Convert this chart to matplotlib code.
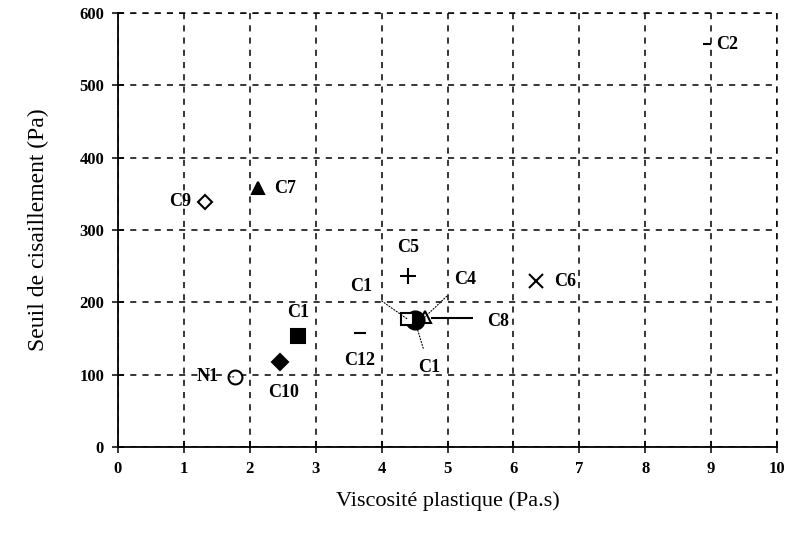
import numpy as np
import pandas as pd
from matplotlib import pyplot as plt

# data (Pa.s, Pa)
names = ["C2", "C9", "C7", "C5", "C6", "C4", "C8", "C3", "C13", "C11", "C10", "N1", "C12"]
visc = [8.94, 1.32, 2.12, 4.40, 6.34, 4.66, 5.07, 4.50, 4.39, 2.73, 2.46, 1.78, 3.67]
seuil = [557, 339, 358, 236, 229, 180, 178, 176, 177, 153, 118, 97, 158]
markers = ["_", "D", "^", "+", "x", "^", "_", "o", "s", "s", "D", "o", "_"]
filled = [True, False, True, True, True, False, True, True, False, True, True, False, True]
sizes = [6, 7, 9, 11, 10, 9, 30, 13, 8, 10, 8, 10, 9]
shown = ["C2", "C9", "C7", "C5", "C6", "C4", "C8", "C1", "C1", "C1", "C10", "N1", "C12"]
# label offset (data units) and whether a leader line is drawn
lab_dx = [0.3, -0.38, 0.42, 0.0, 0.45, 0.6, 0.7, 0.22, -0.7, 0.0, 0.05, -0.42, 0.0]
lab_dy = [0, 0, 0, 40, 0, 52, -4, -66, 45, 33, -42, 0, -38]
leader = [False, False, False, False, False, True, False, True, True, False, False, True, False]

plt.rcParams['font.family'] = ['Liberation Serif', 'DejaVu Serif']
fig = plt.figure(figsize=(7.95, 5.45), dpi=100)
ax = fig.add_axes([0.1484, 0.1798, 0.829, 0.796])

for i in range(len(names)):
    fc = 'black' if filled[i] else 'white'
    ax.plot(visc[i], seuil[i], marker=markers[i], ms=sizes[i], mfc=fc, mec='black',
            mew=1.5, ls='none', zorder=5)
    tx = visc[i] + lab_dx[i]
    ty = seuil[i] + lab_dy[i]
    if leader[i]:
        ax.annotate(shown[i], xy=(visc[i], seuil[i]), xytext=(tx, ty),
                    ha='center', va='center', fontsize=13, fontweight='bold',
                    arrowprops=dict(arrowstyle='-', color='black', lw=0.8, ls=':',
                                    shrinkA=6, shrinkB=0), zorder=6)
    else:
        ax.text(tx, ty, shown[i], ha='center', va='center', fontsize=13,
                fontweight='bold', zorder=6)

ax.set_xlim(0, 10)
ax.set_ylim(0, 600)
ax.set_xticks(np.arange(0, 11, 1))
ax.set_yticks(np.arange(0, 700, 100))
for s in ['top', 'right']:
    ax.spines[s].set_visible(False)
for s in ['left', 'bottom']:
    ax.spines[s].set_linewidth(1.3)
ax.grid(True, color='black', ls=(0, (4, 4)), lw=1.1)
ax.axhline(600, color='black', ls=(0, (4, 4)), lw=1.1, clip_on=False)
ax.axvline(10, color='black', ls=(0, (4, 4)), lw=1.1, clip_on=False)
ax.tick_params(direction='inout', length=8, width=1.1, labelsize=12, pad=6)
for lab in ax.get_xticklabels() + ax.get_yticklabels():
    lab.set_fontweight('bold')
ax.set_xlabel('Viscosité plastique (Pa.s)', fontsize=16, labelpad=10)
ax.set_ylabel('Seuil de cisaillement (Pa)', fontsize=17, labelpad=22)

plt.savefig('out.png', dpi=100)
